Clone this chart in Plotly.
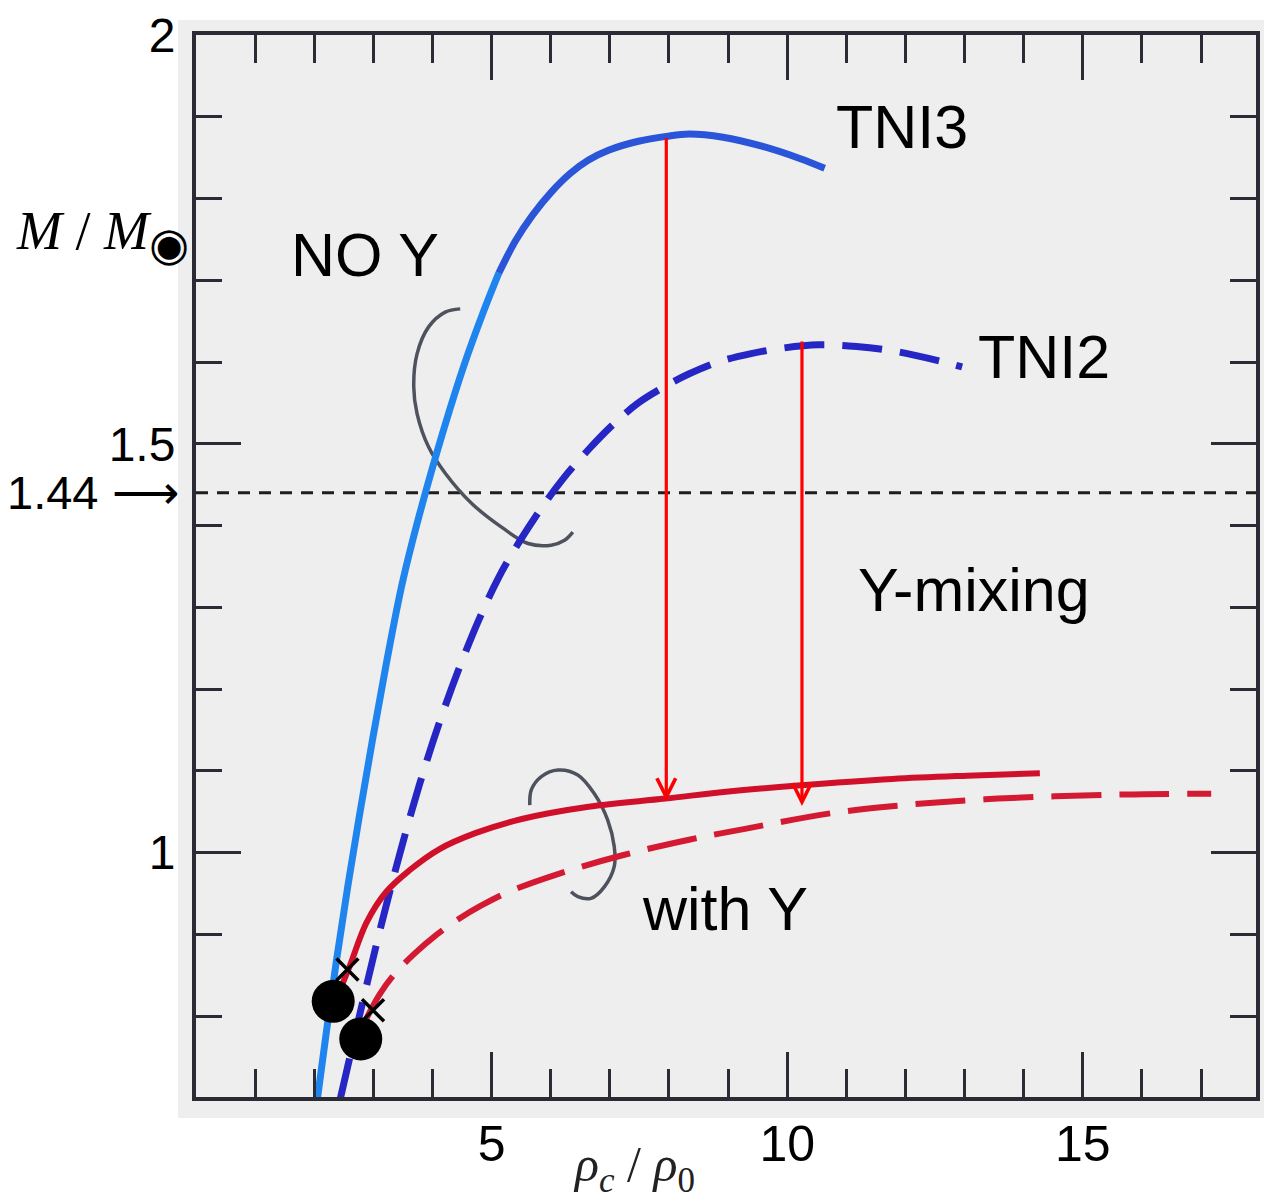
import plotly.graph_objects as go

# ---------------- data ----------------
x_range = [0, 17.93]
y_range = [0.701, 2.0]
x_ticks = [5, 10, 15]
x_tick_labels = ["5", "10", "15"]
y_ticks = [1.0, 1.5, 2.0]
y_tick_labels = ["1", "1.5", "2"]
chandra_limit = 1.44

# TNI3, no hyperons (solid blue)
tni3_x = [2.056, 2.208, 2.376, 2.562, 2.764, 2.983, 3.219, 3.488, 3.775, 4.196, 4.533, 4.870, 5.123,
          5.410, 5.696, 5.999, 6.336, 6.640, 6.977, 7.482, 7.954, 8.342, 8.915, 9.572, 10.212, 10.634]
tni3_y = [0.700, 0.782, 0.868, 0.956, 1.045, 1.137, 1.231, 1.329, 1.412, 1.519, 1.596, 1.663, 1.709,
          1.749, 1.780, 1.807, 1.831, 1.847, 1.859, 1.870, 1.876, 1.879, 1.875, 1.864, 1.849, 1.837]

# TNI2, no hyperons (dashed blue)
tni2_x = [2.444, 2.764, 3.101, 3.438, 3.775, 4.112, 4.449, 4.786, 5.123, 5.460, 5.848, 6.218, 6.640,
          7.061, 7.482, 7.904, 8.325, 8.830, 9.370, 9.926, 10.533, 11.173, 11.830, 12.589, 12.959]
tni2_y = [0.700, 0.800, 0.902, 0.996, 1.082, 1.158, 1.225, 1.285, 1.337, 1.379, 1.422, 1.458, 1.493,
          1.524, 1.550, 1.569, 1.585, 1.600, 1.610, 1.617, 1.621, 1.619, 1.613, 1.601, 1.594]

# TNI3 with hyperons (solid red)
tni3y_x = [2.359, 2.595, 2.882, 3.219, 3.606, 4.112, 4.735, 5.511, 6.640, 7.937, 9.050, 10.179, 11.780, 13.044, 14.274]
tni3y_y = [0.819, 0.860, 0.914, 0.952, 0.978, 1.004, 1.024, 1.041, 1.056, 1.066, 1.075, 1.082, 1.090, 1.094, 1.097]

# TNI2 with hyperons (dashed red)
tni2y_x = [2.882, 3.101, 3.354, 3.691, 4.061, 4.449, 4.820, 5.292, 6.134, 7.230, 8.359, 9.286, 10.735,
           11.813, 13.566, 15.689, 17.172]
tni2y_y = [0.797, 0.826, 0.851, 0.876, 0.899, 0.919, 0.935, 0.952, 0.974, 0.997, 1.016, 1.029, 1.048,
           1.057, 1.066, 1.071, 1.072]

# Y-mixing arrows (x, top, tip)
arrow_x = [7.955, 10.25]
arrow_top = [1.876, 1.627]
arrow_tip = [1.063, 1.057]

# onset of hyperons (dots) and crosses
dot_x = [2.321, 2.787]
dot_y = [0.818, 0.772]
cross_x = [2.561, 2.994]
cross_y = [0.857, 0.807]

# bracket arcs
arc_noy_x = [4.469, 4.216, 3.935, 3.739, 3.683, 3.739, 3.935, 4.216, 4.664, 5.168, 5.617, 6.009, 6.234, 6.374]
arc_noy_y = [1.665, 1.661, 1.643, 1.610, 1.570, 1.537, 1.496, 1.464, 1.427, 1.398, 1.378, 1.376, 1.382, 1.392]
arc_y_x = [5.646, 5.673, 5.841, 6.122, 6.458, 6.739, 6.963, 7.075, 7.075, 6.907, 6.682, 6.458, 6.345]
arc_y_y = [1.058, 1.077, 1.093, 1.101, 1.095, 1.072, 1.040, 1.007, 0.983, 0.958, 0.944, 0.946, 0.952]

# ---------------- figure ----------------
AX = "#2b2b35"
fig = go.Figure()

# dashed 1.44 line
fig.add_trace(go.Scatter(x=x_range, y=[chandra_limit, chandra_limit], mode="lines",
                         line=dict(color="#1e1e1e", width=3, dash="12px,9px"), hoverinfo="skip"))

# bracket arcs
for ax_, ay_ in [(arc_noy_x, arc_noy_y), (arc_y_x, arc_y_y)]:
    fig.add_trace(go.Scatter(x=ax_, y=ay_, mode="lines",
                             line=dict(color="#4d525c", width=3.5, shape="spline", smoothing=1.0)))

# blue curves
fig.add_trace(go.Scatter(x=tni2_x, y=tni2_y, mode="lines",
                         line=dict(color="#2626c4", width=7, dash="40px,18px", shape="spline", smoothing=1.0)))
split = 13
fig.add_trace(go.Scatter(x=tni3_x[:split], y=tni3_y[:split], mode="lines",
                         line=dict(color="#1f84ee", width=7, shape="spline", smoothing=1.0)))
fig.add_trace(go.Scatter(x=tni3_x[split - 1:], y=tni3_y[split - 1:], mode="lines",
                         line=dict(color="#2b55d8", width=7, shape="spline", smoothing=1.0)))

# red curves
fig.add_trace(go.Scatter(x=tni2y_x, y=tni2y_y, mode="lines",
                         line=dict(color="#d41a32", width=6, dash="50px,18px", shape="spline", smoothing=1.0)))
fig.add_trace(go.Scatter(x=tni3y_x, y=tni3y_y, mode="lines",
                         line=dict(color="#d0102a", width=6, shape="spline", smoothing=1.0)))

# crosses and dots
fig.add_trace(go.Scatter(x=cross_x, y=cross_y, mode="markers",
                         marker=dict(symbol="x-thin", size=22, line=dict(color="black", width=3.5))))
fig.add_trace(go.Scatter(x=dot_x, y=dot_y, mode="markers",
                         marker=dict(symbol="circle", size=43, color="black", line=dict(width=0))))

# arrows
for xa, yt, yb in zip(arrow_x, arrow_top, arrow_tip):
    fig.add_annotation(x=xa, y=yb, ax=xa, ay=yt, xref="x", yref="y", axref="x", ayref="y",
                       text="", showarrow=True, arrowhead=5, arrowsize=1.15, arrowwidth=3.2,
                       arrowcolor="#ff0000", standoff=0)

# scanned-paper background
fig.add_shape(type="rect", xref="paper", yref="paper", x0=-0.0169, x1=1.0075, y0=-0.0198, y1=1.0141,
              fillcolor="#eeeeee", line_width=0, layer="below")

TXT = dict(family="Liberation Sans, Arial, sans-serif", size=61, color="black")
labels = [("TNI3", 11.95, 1.887), ("TNI2", 14.34, 1.606), ("NO Y", 2.865, 1.731),
          ("Y-mixing", 13.16, 1.321), ("with Y", 8.95, 0.931)]
for t, xx, yy in labels:
    fig.add_annotation(x=xx, y=yy, xref="x", yref="y", text=t, showarrow=False, font=TXT)

# 1.44 label
fig.add_annotation(x=-0.014, y=chandra_limit, xref="paper", yref="y", xanchor="right", yanchor="middle",
                   text="1.44 ⟶", showarrow=False,
                   font=dict(family="Liberation Sans, Arial", size=47, color="black"))

# axis titles
fig.add_annotation(x=-0.088, y=1.755, xref="paper", yref="y", xanchor="center", yanchor="middle",
                   showarrow=False,
                   text="<i>M</i> / <i>M</i><sub><span style='font-size:46px'>◉</span></sub>",
                   font=dict(family="Liberation Serif, DejaVu Serif, serif", size=54, color="black"))
fig.add_annotation(x=0.413, y=-0.067, xref="paper", yref="paper", xanchor="center", yanchor="middle",
                   showarrow=False,
                   text="<i>ρ<sub>c</sub></i> / <i>ρ</i><sub>0</sub>",
                   font=dict(family="Liberation Serif, DejaVu Serif, serif", size=50, color="#222"))

fig.update_layout(width=1268, height=1198, margin=dict(l=196, r=8, t=35, b=101),
                  paper_bgcolor="white", plot_bgcolor="rgba(0,0,0,0)", showlegend=False,
                  font=dict(family="Liberation Sans, Arial", color="black"))

fig.update_xaxes(range=x_range, tickmode="array", tickvals=x_ticks, ticktext=x_tick_labels,
                 ticks="inside", ticklen=45, tickwidth=3, tickcolor=AX,
                 showline=True, linewidth=4, linecolor=AX, mirror="ticks",
                 showgrid=False, zeroline=False, tickfont=dict(size=50, color="black"),
                 ticklabelstandoff=0,
                 minor=dict(tickmode="linear", tick0=0, dtick=1, ticks="inside", ticklen=28,
                            tickwidth=3, tickcolor=AX, showgrid=False))
fig.update_yaxes(range=y_range, tickmode="array", tickvals=y_ticks, ticktext=y_tick_labels,
                 ticks="inside", ticklen=45, tickwidth=3, tickcolor=AX,
                 showline=True, linewidth=4, linecolor=AX, mirror="ticks",
                 showgrid=False, zeroline=False, tickfont=dict(size=48, color="black"),
                 ticklabelstandoff=7,
                 minor=dict(tickmode="linear", tick0=0, dtick=0.1, ticks="inside", ticklen=26,
                            tickwidth=3, tickcolor=AX, showgrid=False))

fig.write_html("out.html")
